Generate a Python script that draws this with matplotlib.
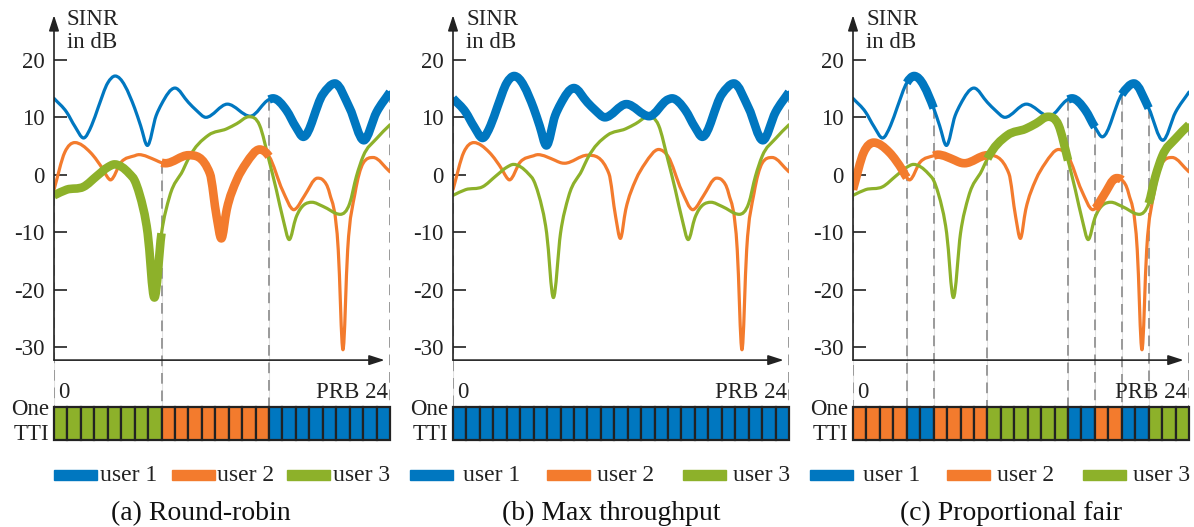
import numpy as np
import matplotlib
matplotlib.use("Agg")
import matplotlib.pyplot as plt
from matplotlib.path import Path
from matplotlib.patches import PathPatch, Rectangle

# ---------------- data ----------------
users = ["user 1", "user 2", "user 3"]
colors = ["#0077C0", "#F37B2D", "#8DB12A"]

# SINR curves (dB) over PRB position (knots)
u1_x = [0, 0.94, 1.56, 2.2, 2.8, 3.3, 4.0, 4.55, 6.0, 6.45, 6.95, 7.6, 8.0, 9.0, 10.0, 10.6,
        11.3, 12.9, 14.6, 16.0, 16.3, 17.3, 18.0, 18.55, 20.0, 20.9, 22.0, 23.05, 24.0, 25.0]
u1_y = [13.3, 10.9, 8.4, 6.4, 8.6, 11.8, 16.0, 17.2, 11.6, 8.5, 5.1, 10.3, 12.3, 15.1, 12.6, 11.2,
        10.0, 12.3, 10.2, 13.1, 13.3, 11.2, 8.3, 6.6, 14.0, 15.9, 11.6, 6.0, 10.9, 14.4]

u2_x = [0, 0.8, 1.55, 2.7, 3.7, 4.0, 4.2, 5.0, 6.0, 6.3, 7.6, 8.0, 8.3, 10.0, 11.6, 12.1,
        12.45, 12.85, 13.6, 14.3, 15.3, 16.0, 17.0, 17.85, 18.0, 18.6, 19.6, 20.0, 20.5,
        21.15, 21.5, 21.85, 22.4, 23.0, 23.75, 25.0]
u2_y = [-2.6, 3.9, 5.6, 3.9, 0.7, -0.5, -0.9, 2.2, 3.3, 3.5, 2.5, 2.1, 2.0, 3.4, 0.2, -7.3,
        -11.1, -6.1, -0.9, 2.0, 4.4, 3.2, -2.7, -6.1, -5.9, -3.8, -0.6, -0.9, -3.2,
        -13.1, -30.5, -13.1, -3.2, 2.0, 3.0, 0.5]

u3_x = [0, 0.94, 2.2, 3.2, 4.0, 4.5, 5.6, 6.0, 6.35, 6.97, 7.47, 8.0, 8.6, 9.6, 10.0,
        11.5, 12.85, 13.6, 14.5, 15.3, 16.0, 16.55, 17.06, 17.5, 18.0, 19.2, 20.0, 21.3,
        22.0, 22.5, 23.0, 24.0, 25.0]
u3_y = [-3.6, -2.6, -2.1, -0.2, 1.3, 1.8, 0.2, -1.0, -3.3, -10.2, -21.4, -10.2, -3.8, 0.8, 2.8,
        6.9, 8.0, 8.9, 10.1, 8.6, 2.5, -2.7, -7.9, -11.3, -7.5, -4.8, -5.5, -6.9,
        -5.0, -0.3, 3.2, 6.3, 8.7]

# PRB allocation for one TTI (user number for each of the 25 PRBs)
alloc_rr = [3, 3, 3, 3, 3, 3, 3, 3, 2, 2, 2, 2, 2, 2, 2, 2, 1, 1, 1, 1, 1, 1, 1, 1, 1]
alloc_mt = [1, 1, 1, 1, 1, 1, 1, 1, 1, 1, 1, 1, 1, 1, 1, 1, 1, 1, 1, 1, 1, 1, 1, 1, 1]
alloc_pf = [2, 2, 2, 2, 1, 1, 2, 2, 2, 2, 3, 3, 3, 3, 3, 3, 1, 1, 2, 2, 1, 1, 3, 3, 3]

captions = ["(a) Round-robin", "(b) Max throughput", "(c) Proportional fair"]
yticks = [-30, -20, -10, 0, 10, 20]
ytick_labels = ["-30", "-20", "-10", "0", "10", "20"]

curves = [(u1_x, u1_y), (u2_x, u2_y), (u3_x, u3_y)]
allocs = [alloc_rr, alloc_mt, alloc_pf]

# ---------------- layout ----------------
W, H = 1194, 527
FONT = "Liberation Serif"
plt.rcParams["font.family"] = [FONT, "DejaVu Serif"]

fig = plt.figure(figsize=(W / 100, H / 100), dpi=100)

panel_x0 = [54, 453, 853]
legend_patch_dx = [[0, 118, 233], [-43, 94, 230], [-43, 94, 230]]
legend_text_dx = [[46, 163, 279], [10, 144, 280], [10, 144, 280]]
caption_cx = [201, 611, 1011]

PX_W = 336
Y_TOP, Y_BOT = 28.7, -40.47
XAX_Y = -32.3
AX_TOP = 10
BAR_TOP, BAR_BOT = 407, 440
TXT = "#222222"


def fx(px):
    return px / W


def fy(py):
    return 1 - py / H


def tangents(xs, ys):
    xs = np.asarray(xs, float)
    ys = np.asarray(ys, float)
    n = len(xs)
    h = np.diff(xs)
    d = np.diff(ys) / h
    m = np.zeros(n)
    m[0] = d[0]
    m[-1] = d[-1]
    for i in range(1, n - 1):
        if d[i - 1] * d[i] <= 0:
            m[i] = 0.0
        else:
            est = (d[i] * h[i - 1] + d[i - 1] * h[i]) / (h[i - 1] + h[i])
            lim = 3 * min(abs(d[i - 1]), abs(d[i]))
            m[i] = np.sign(est) * min(abs(est), lim)
    return xs, ys, m


def curve_path(xs, ys, m, i0, i1):
    verts = [(xs[i0], ys[i0])]
    codes = [Path.MOVETO]
    for i in range(i0, i1):
        hh = xs[i + 1] - xs[i]
        verts += [(xs[i] + hh / 3, ys[i] + m[i] * hh / 3),
                  (xs[i + 1] - hh / 3, ys[i + 1] - m[i + 1] * hh / 3),
                  (xs[i + 1], ys[i + 1])]
        codes += [Path.CURVE4] * 3
    return Path(verts, codes)


prepared = [tangents(x, y) for x, y in curves]

for p in range(3):
    x0 = panel_x0[p]
    alloc = allocs[p]
    ax = fig.add_axes([fx(x0), fy(BAR_TOP), PX_W / W, (BAR_TOP - AX_TOP) / H])
    ax.set_xlim(0, 25)
    ax.set_ylim(Y_BOT, Y_TOP)
    for s in ax.spines.values():
        s.set_visible(False)
    ax.set_xticks([])
    ax.set_yticks(yticks)
    ax.set_yticklabels(ytick_labels)
    ax.tick_params(axis="y", direction="in", length=9.5, width=1.3, colors="#333333",
                   labelsize=16.5, pad=7)
    for lab in ax.get_yticklabels():
        lab.set_color(TXT)
    ax.patch.set_alpha(0)

    # allocation boundaries
    bounds = [0] + [k for k in range(1, 25) if alloc[k] != alloc[k - 1]] + [25]
    for b in bounds:
        near = []
        if b > 0:
            near.append(alloc[b - 1])
        if b < 25:
            near.append(alloc[b])
        top = max(np.interp(b, curves[u - 1][0], curves[u - 1][1]) for u in near)
        ax.plot([b, b], [top, Y_BOT], color="#e2e2e2", lw=0.8, zorder=1)
        ax.plot([b, b], [top, Y_BOT], color="#9a9a9a", lw=1.4, ls=(0, (5.5, 3.5)), zorder=1.1)

    # thin curves
    for u in range(3):
        xs, ys, m = prepared[u]
        ax.add_patch(PathPatch(curve_path(xs, ys, m, 0, len(xs) - 1), fill=False,
                               edgecolor=colors[u], lw=2.3, capstyle="round",
                               joinstyle="round", zorder=3))
    # thick (scheduled) curve segments
    runs = []
    start = 0
    for k in range(1, 26):
        if k == 25 or alloc[k] != alloc[start]:
            runs.append((alloc[start], start, k))
            start = k
    for u, a, b in runs:
        xs, ys, m = prepared[u - 1]
        i0 = int(np.where(np.isclose(xs, a))[0][0])
        i1 = int(np.where(np.isclose(xs, b))[0][0])
        ax.add_patch(PathPatch(curve_path(xs, ys, m, i0, i1), fill=False,
                               edgecolor=colors[u - 1], lw=6.2, capstyle="butt",
                               joinstyle="round", zorder=4))

    # axes arrows
    arrow = dict(arrowstyle="-|>,head_length=0.62,head_width=0.2", color="#222222",
                 lw=1.2, shrinkA=0, shrinkB=0, mutation_scale=15)
    ax.annotate("", xy=(24.6, XAX_Y), xytext=(0, XAX_Y), arrowprops=arrow,
                annotation_clip=False, zorder=5)
    ax.annotate("", xy=(0, 27.8), xytext=(0, XAX_Y), arrowprops=arrow,
                annotation_clip=False, zorder=5)

    # texts
    fig.text(fx(x0 + 13), fy(AX_TOP - 1), "SINR\nin dB", ha="left", va="top",
             fontsize=16.5, color=TXT, linespacing=1.15)
    fig.text(fx(x0 + 4), fy(398), "0", ha="left", va="baseline", fontsize=16.5,
             color=TXT)
    fig.text(fx(x0 + 334), fy(398), "PRB 24", ha="right", va="baseline", fontsize=16.5,
             color=TXT)
    fig.text(fx(x0 - 5), fy(415), "One", ha="right", va="baseline", fontsize=16.5,
             color=TXT)
    fig.text(fx(x0 - 5), fy(440), "TTI", ha="right", va="baseline", fontsize=16.5,
             color=TXT)

    # allocation bar
    axb = fig.add_axes([fx(x0), fy(BAR_BOT), PX_W / W, (BAR_BOT - BAR_TOP) / H])
    axb.set_xlim(0, 25)
    axb.set_ylim(0, 1)
    axb.axis("off")
    bars = axb.bar(np.arange(25), 1, width=1, align="edge",
                   color=[colors[u - 1] for u in alloc], edgecolor="#222222",
                   linewidth=1.6)
    for r in bars:
        r.set_clip_on(False)

    # legend
    for u in range(3):
        fig.add_artist(Rectangle((fx(x0 + legend_patch_dx[p][u]), fy(480)), 43 / W, 10 / H,
                                 transform=fig.transFigure, color=colors[u]))
        fig.text(fx(x0 + legend_text_dx[p][u]), fy(481), users[u], ha="left",
                 va="baseline", fontsize=17, color=TXT)

    fig.text(fx(caption_cx[p]), fy(520), captions[p], ha="center", va="baseline",
             fontsize=20, color="#111111")

fig.savefig("out.png", dpi=100)
